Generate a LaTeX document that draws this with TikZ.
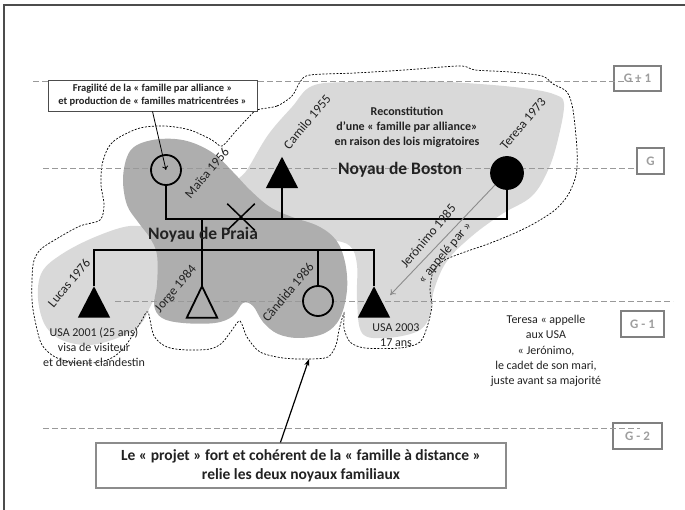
\documentclass[tikz,border=0pt]{standalone}
\usepackage{fontspec}
\setmainfont{Carlito}
\usetikzlibrary{arrows.meta,shapes.misc,calc}
\definecolor{lightblob}{HTML}{D9D9D9}
\definecolor{darkblob}{HTML}{AEAEAE}
\definecolor{inkgray}{HTML}{222222}
\begin{document}
\begin{tikzpicture}[x=1pt,y=-1pt,
  kin/.style={line width=1.8pt, draw=black},
  femalesym/.style={circle, draw=black, line width=1.8pt, minimum size=30pt, inner sep=0pt},
  malebox/.style={rectangle, inner sep=0pt, minimum width=32pt, minimum height=31pt},
  namelabel/.style={rotate=50, font=\fontsize{13}{15}\selectfont, text=inkgray, inner sep=0pt},
  note/.style={align=center, font=\fontsize{12}{15.2}\selectfont, text=inkgray, inner sep=0pt},
  boldnote/.style={align=center, font=\bfseries\fontsize{12}{15}\selectfont, text=inkgray, inner sep=0pt},
  corename/.style={font=\bfseries\fontsize{17.5}{20}\selectfont, text=inkgray, inner sep=0pt},
  gbox/.style={draw=black!50, line width=1.1pt, text=black!38, font=\bfseries\fontsize{13}{15}\selectfont,
    minimum height=25pt, inner sep=0pt},
  genline/.style={draw=black!40, dash pattern=on 6pt off 3pt, line width=0.8pt},
  outline/.style={draw=black, line width=0.7pt, dash pattern=on 2pt off 1.5pt},
  callbox/.style={draw=black!70, fill=white, line width=0.9pt, align=center, inner sep=0pt,
    font=\bfseries\fontsize{10.5}{13}\selectfont, text=inkgray},
  projectbox/.style={draw=black!45, fill=white, line width=1.1pt, align=center, inner sep=0pt,
    font=\bfseries\fontsize{15.5}{19}\selectfont, text=inkgray},
  pointer/.style={draw=black, line width=1.2pt, -{Stealth[length=7pt,width=5pt]}},
  thinpointer/.style={draw=black, line width=0.8pt, -{To[length=4pt,width=6pt]}},
  callarrow/.style={draw=black!45, line width=0.9pt, -{To[length=5pt,width=7pt]}}
]
\useasboundingbox (0,0) rectangle (685,510);

% frame edges
\draw[line width=2pt, black!70] (4,510) -- (4,5) -- (685,5);

% family cores
\fill[lightblob] plot[smooth cycle, tension=0.6] coordinates {
  (312,86) (350,82) (420,81) (480,84) (530,89) (556,95) (564,104) (559,135) (549,168)
  (532,196) (502,214) (472,236) (447,261) (434,290) (429,318) (416,332) (385,338)
  (362,333) (357,300) (357,265) (350,246) (330,240) (295,238) (255,225) (232,190)
  (247,170) (268,135) (292,107)};
\fill[lightblob] plot[smooth cycle, tension=0.6] coordinates {
  (130,226) (152,232) (158,258) (157,290) (150,307) (140,325) (120,337) (90,345)
  (62,340) (45,325) (38,298) (42,272) (62,254) (95,237)};
\fill[darkblob] plot[smooth cycle, tension=0.6] coordinates {
  (127,157) (137,145) (160,139) (187,141) (213,153) (233,172) (250,190) (270,207)
  (292,217) (318,226) (336,240) (345,262) (347,290) (340,318) (325,333) (300,338)
  (278,334) (263,322) (253,306) (243,303) (233,316) (215,323) (183,323) (162,318)
  (154,305) (157,285) (157,255) (150,238) (138,222) (127,205) (123,180)};

% distant family outline
\draw[outline] plot[smooth cycle, tension=0.5] coordinates {
  (257,110) (277,106) (292,96) (300,82) (310,75) (355,73) (405,70) (460,66) (475,70)
  (510,72) (542,76) (553,84) (567,92) (573,110) (577,150) (576,175) (568,195) (555,210)
  (535,223) (515,233) (488,244) (462,253) (443,261) (433,272) (430,290) (432,305)
  (428,324) (420,342) (400,348) (365,348) (350,342) (344,328) (344,313) (339,330)
  (336,345) (328,357) (308,359) (283,358) (260,352) (247,337) (240,321) (232,330)
  (222,343) (210,349) (187,350) (167,347) (154,336) (148,312) (142,320) (134,333)
  (126,345) (115,356) (100,362) (75,363) (55,357) (42,345) (36,325) (32,300) (33,265)
  (40,250) (58,238) (80,226) (100,220) (104,205) (101,185) (102,165) (108,148)
  (118,138) (140,128) (165,126) (190,130) (212,140) (222,146) (235,132) (248,118)};

% generation levels
\node[gbox, minimum width=47pt] (gplus) at (637.5,78.5) {G + 1};
\node[gbox, minimum width=27pt, minimum height=26pt] (gzero) at (650.5,161) {G};
\node[gbox, minimum width=43pt, minimum height=26pt] (gminus) at (642.5,324) {G - 1};
\node[gbox, minimum width=49pt, minimum height=26pt] (gminustwo) at (637.5,436) {G - 2};
\coordinate (gplusstart) at (33,81);
\coordinate (gzerostart) at (43,168);
\coordinate (gminusstart) at (115,301);
\coordinate (gminustwostart) at (43,428);
\draw[genline] (gplusstart) -- ++(607,0);
\draw[genline] (gzerostart) -- (gzerostart -| gzero.west);
\draw[genline] (gminusstart) -- ++(558,0);
\draw[genline] (gminustwostart) -- ++(597,0);

% persons
\node[femalesym, fill=darkblob] (maisa) at (166,170) {};
\node[femalesym, fill=black, minimum size=32pt] (teresa) at (507,173) {};
\node[femalesym, fill=darkblob] (candida) at (318,301) {};
\node[malebox] (camilo) at (282,172.5) {};
\node[malebox] (lucas) at (94,302) {};
\node[malebox, minimum width=30pt] (jorge) at (202,302) {};
\node[malebox] (jeronimo) at (374,302) {};
\fill[black] (camilo.south west) -- (camilo.south east) -- (camilo.north) -- cycle;
\fill[black] (lucas.south west) -- (lucas.south east) -- (lucas.north) -- cycle;
\fill[black] (jeronimo.south west) -- (jeronimo.south east) -- (jeronimo.north) -- cycle;
\draw[kin, fill=darkblob] (jorge.south west) -- (jorge.south east) -- (jorge.north) -- cycle;

% kinship lines
\coordinate (unionline) at (300,219);
\coordinate (sibline) at (200,250);
\draw[kin] (maisa.south) -- (maisa.south |- unionline) -| (teresa.south);
\draw[kin] (camilo.south) -- (camilo.south |- unionline);
\draw[kin] (jorge.north |- unionline) -- (jorge.north);
\draw[kin] (lucas.north) -- (lucas.north |- sibline) -- (jeronimo.north |- sibline) -- (jeronimo.north);
\draw[kin] (candida.north |- sibline) -- (candida.north);
\node[cross out, draw=black, line width=1.5pt, minimum width=26pt, minimum height=25pt, inner sep=0pt] (separation) at (241,217) {};

% names
\node[namelabel] (lblcamilo) at (307,122) {Camilo 1955};
\node[namelabel] (lblteresa) at (523,124) {Teresa 1973};
\node[namelabel] (lblmaisa) at (207,173) {Maïsa 1956};
\node[namelabel] (lbljeronimo) at (428,236) {Jerónimo 1985};
\node[namelabel] (lblcalled) at (445,253) {« appelé par »};
\node[namelabel] (lbllucas) at (69,283) {Lucas 1976};
\node[namelabel] (lbljorge) at (176,289) {Jorge 1984};
\node[namelabel] (lblcandida) at (288,292) {Cândida 1986};

% core titles and notes
\node[corename] (boston) at (400,170) {Noyau de Boston};
\node[corename] (praia) at (203,235) {Noyau de Praia};
\node[boldnote] (reconst) at (407,127) {Reconstitution\\d’une « famille par alliance»\\en raison des lois migratoires};
\node[note] (tnote) at (546,351) {Teresa « appelle\\aux USA\\« Jerónimo,\\le cadet de son mari,\\juste avant sa majorité};
\node[note] (jnote) at (396,335) {USA 2003\\17 ans};
\node[note] (lnote) at (94,347) {USA 2001 (25 ans)\\visa de visiteur\\et devient clandestin};

% call boxes
\node[callbox, minimum width=209pt, minimum height=31pt] (fragile) at (152.5,95.5)
  {Fragilité de la « famille par alliance »\\et production de « familles matricentrées »};
\node[projectbox, minimum width=410pt, minimum height=45pt] (projet) at (301,465.5)
  {Le « projet » fort et cohérent de la « famille à distance »\\relie les deux noyaux familiaux};

% arrows
\coordinate (outlinebottom) at (309,359);
\draw[thinpointer] (fragile.south) -- (maisa.center);
\draw[pointer] ($(projet.north west)!0.45!(projet.north east)$) -- (outlinebottom);
\draw[callarrow] (teresa.south west) -- ([yshift=7pt]jeronimo.east);
\end{tikzpicture}
\end{document}
